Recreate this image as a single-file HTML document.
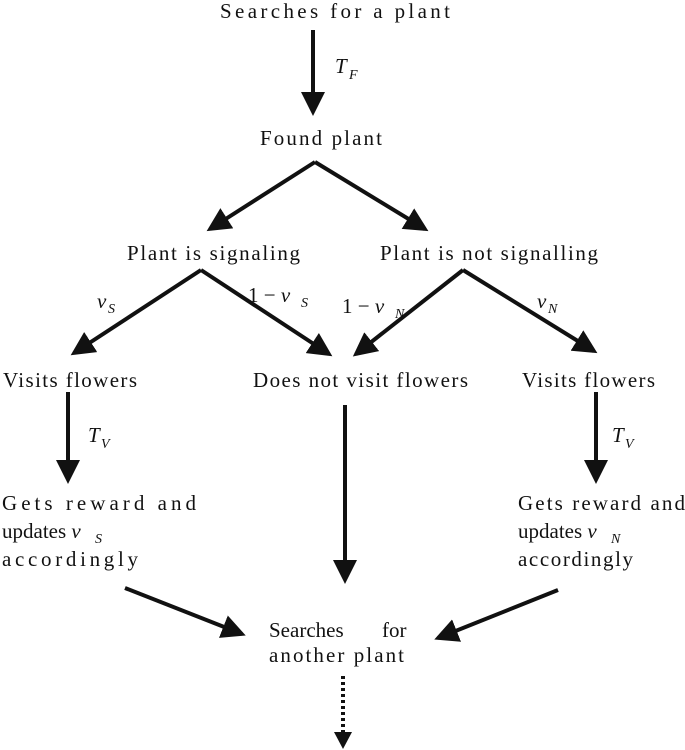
<!DOCTYPE html>
<html><head><meta charset="utf-8"><style>
html,body{margin:0;padding:0;background:#fff;}
svg{display:block;}
text{font-family:"Liberation Serif",serif;font-size:21px;fill:#111;}
.i{font-style:italic;}
.s{font-size:14px;font-style:italic;}
</style></head><body>
<svg width="685" height="750" viewBox="0 0 685 750" xmlns="http://www.w3.org/2000/svg">
<defs>
<marker id="a" markerWidth="6" markerHeight="6" refX="5" refY="3" orient="auto" markerUnits="strokeWidth">
<path d="M0,0 L6,3 L0,6 z" fill="#111"/></marker>
</defs>
<g stroke="#111" stroke-width="4" fill="none" marker-end="url(#a)">
<line x1="313" y1="30" x2="313" y2="112"/>
<line x1="315" y1="162" x2="210" y2="229"/>
<line x1="315" y1="162" x2="425" y2="229"/>
<line x1="201" y1="270" x2="74" y2="353"/>
<line x1="201" y1="270" x2="329" y2="354"/>
<line x1="463" y1="270" x2="356" y2="354"/>
<line x1="463" y1="270" x2="594" y2="351"/>
<line x1="68" y1="392" x2="68" y2="480"/>
<line x1="345" y1="405" x2="345" y2="580"/>
<line x1="596" y1="392" x2="596" y2="480"/>
<line x1="125" y1="588" x2="242" y2="634"/>
<line x1="558" y1="590" x2="438" y2="638"/>
</g>
<line x1="343" y1="676" x2="343" y2="732" stroke="#111" stroke-width="4" stroke-dasharray="3,3"/>
<path d="M334,732 L352,732 L343,749 z" fill="#111"/>

<text x="220" y="18" textLength="230">Searches for a plant</text>
<text x="335" y="73" class="i">T</text><text x="349" y="79" class="s">F</text>
<text x="260" y="145" textLength="122">Found plant</text>
<text x="127" y="260" textLength="173">Plant is signaling</text>
<text x="380" y="260" textLength="218">Plant is not signalling</text>
<text x="97" y="308" class="i">v</text><text x="108" y="313" class="s">S</text>
<text x="248" y="302">1 − <tspan class="i">v</tspan></text><text x="301" y="307" class="s">S</text>
<text x="342" y="313">1 − <tspan class="i">v</tspan></text><text x="395" y="318" class="s">N</text>
<text x="537" y="308" class="i">v</text><text x="548" y="313" class="s">N</text>
<text x="3" y="387" textLength="134">Visits flowers</text>
<text x="253" y="387" textLength="215">Does not visit flowers</text>
<text x="522" y="387" textLength="133">Visits flowers</text>
<text x="88" y="442" class="i">T</text><text x="101" y="448" class="s">V</text>
<text x="612" y="442" class="i">T</text><text x="625" y="448" class="s">V</text>
<text x="2" y="510" textLength="194">Gets reward and</text>
<text x="2" y="538">updates <tspan class="i">v</tspan></text><text x="95" y="543" class="s">S</text>
<text x="2" y="566" textLength="136">accordingly</text>
<text x="518" y="510" textLength="167">Gets reward and</text>
<text x="518" y="538">updates <tspan class="i">v</tspan></text><text x="611" y="543" class="s">N</text>
<text x="518" y="566" textLength="115">accordingly</text>
<text x="269" y="637">Searches</text><text x="382" y="637">for</text>
<text x="269" y="662" textLength="135">another plant</text>
</svg>
</body></html>
